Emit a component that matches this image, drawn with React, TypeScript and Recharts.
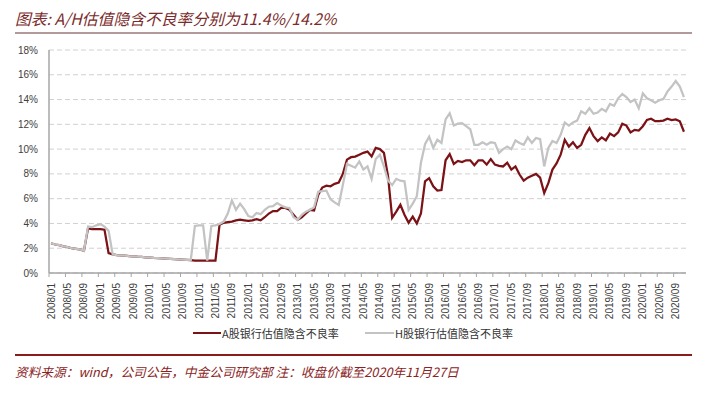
import { CartesianGrid, Legend, Line, LineChart, XAxis, YAxis } from "recharts"

// monthly categories 2008/01 .. 2020/11
const startYear = 2008
const monthCount = 155
const months: string[] = []
for (let i = 0; i < monthCount; i++) {
  const y = startYear + Math.floor(i / 12)
  const m = (i % 12) + 1
  months.push(`${y}/${m < 10 ? "0" + m : m}`)
}

// A股银行估值隐含不良率 (%)
const aRate = [
  2.4, 2.3, 2.25, 2.15, 2.1, 2.0, 1.95, 1.9, 1.8, 3.6, 3.55, 3.55,
  3.55, 3.5, 1.6, 1.5, 1.45, 1.42, 1.4, 1.37, 1.35, 1.32, 1.3, 1.27,
  1.25, 1.22, 1.2, 1.18, 1.16, 1.14, 1.12, 1.1, 1.08, 1.06, 1.03, 1.0,
  1.0, 1.0, 1.0, 1.0, 1.0, 3.9, 4.05, 4.1, 4.15, 4.25, 4.3, 4.25,
  4.2, 4.25, 4.35, 4.25, 4.5, 4.8, 5.0, 5.0, 5.25, 5.25, 5.1, 4.7,
  4.3, 4.5, 4.8, 5.1, 5.05, 6.3, 6.9, 7.05, 7.0, 7.2, 7.3, 8.0,
  9.15, 9.35, 9.4, 9.55, 9.7, 9.8, 9.4, 10.1, 10.0, 9.7, 7.8, 4.45,
  4.95, 5.5, 4.7, 4.05, 4.55, 4.0, 4.8, 7.4, 7.65, 7.0, 6.65, 6.7,
  9.1, 9.6, 8.8, 9.05, 8.95, 9.1, 9.1, 8.7, 9.1, 9.1, 8.75, 9.2,
  8.75, 8.65, 8.6, 8.9, 8.35, 8.6, 7.95, 7.45, 7.7, 7.85, 8.0, 7.7,
  6.45, 7.25, 8.35, 8.85, 9.55, 10.75, 10.2, 10.55, 10.1, 10.35, 11.15, 11.7,
  11.05, 10.65, 10.95, 10.7, 11.25, 11.05, 11.35, 12.05, 11.9, 11.35, 11.55, 11.5,
  11.85, 12.35, 12.45, 12.25, 12.25, 12.3, 12.45, 12.35, 12.4, 12.25, 11.4,
]

// H股银行估值隐含不良率 (%)
const hRate = [
  2.4, 2.3, 2.25, 2.15, 2.1, 2.0, 1.95, 1.9, 1.8, 3.75, 3.7, 3.85,
  3.95, 3.75, 3.4, 1.5, 1.45, 1.42, 1.4, 1.37, 1.35, 1.32, 1.3, 1.27,
  1.25, 1.22, 1.2, 1.18, 1.16, 1.14, 1.12, 1.1, 1.08, 1.06, 1.05, 3.8,
  3.85, 3.85, 1.0, 3.8, 3.85, 3.95, 4.15, 4.8, 5.85, 5.1, 5.6, 5.15,
  4.6, 4.5, 4.85, 4.75, 5.1, 5.35, 5.4, 5.65, 5.45, 5.3, 5.25, 4.5,
  4.3, 4.7, 4.95, 5.1, 5.3, 6.55, 6.6, 6.65, 5.95, 5.7, 5.5, 7.1,
  8.8, 8.65, 8.5, 9.0, 8.35, 8.6, 7.6, 9.2, 9.55, 8.6, 7.45, 7.1,
  7.6, 7.45, 7.4, 5.1, 5.6, 6.2, 8.9, 10.4, 11.0, 10.1, 10.75, 10.5,
  12.4, 12.9, 11.9, 12.05, 12.1, 11.85, 11.6, 10.35, 10.35, 10.55, 10.35, 10.55,
  10.5, 9.7, 10.0, 10.2, 10.0, 10.7, 10.5, 10.35, 10.95, 10.5, 10.9, 10.8,
  8.6, 10.1, 10.65, 10.5, 11.15, 12.15, 11.9, 12.15, 12.3, 13.05, 12.85, 13.3,
  12.85, 12.95, 13.25, 13.05, 13.65, 13.5, 14.1, 14.45, 14.2, 13.8, 14.0, 13.3,
  14.5, 14.1, 13.95, 13.75, 13.95, 14.05, 14.65, 15.05, 15.5, 15.05, 14.2,
]

const yTicks = [0, 2, 4, 6, 8, 10, 12, 14, 16, 18]

const seriesNames = ["A股银行估值隐含不良率", "H股银行估值隐含不良率"]
const colorA = "#7a1216"
const colorH = "#c3c3c3"

const data = months.map((m, i) => ({ month: m, a: aRate[i], h: hRate[i] }))

const plotLeft = 49
const plotRight = 686
const halfBand = (plotRight - plotLeft) / monthCount / 2

const XTick = (props: any) => {
  const { x, y, payload } = props
  const axisY = y - 10
  return (
    <g>
      <line x1={x - halfBand} x2={x - halfBand} y1={axisY} y2={axisY + 4} stroke="#a6a6a6" />
      <text
        transform={`translate(${x},${y}) rotate(-90)`}
        textAnchor="end"
        dominantBaseline="central"
        fontSize={10}
        fill="#404040"
        fontFamily="'Liberation Sans', Arial, sans-serif"
      >
        {payload.value}
      </text>
    </g>
  )
}

const renderLegend = () => (
  <div style={{ position: "relative", height: 16, fontFamily: "'Noto Sans CJK SC', sans-serif", fontSize: 11, color: "#333" }}>
    <div style={{ position: "absolute", left: 193, top: 7, width: 28, height: 2, background: colorA }} />
    <span style={{ position: "absolute", left: 222, top: 0, lineHeight: "16px" }}>{seriesNames[0]}</span>
    <div style={{ position: "absolute", left: 365, top: 7, width: 29, height: 2, background: colorH }} />
    <span style={{ position: "absolute", left: 395, top: 0, lineHeight: "16px" }}>{seriesNames[1]}</span>
  </div>
)

export default function App() {
  return (
    <div style={{ position: "absolute", left: 0, top: 0, width: 701, height: 394, background: "#fff", overflow: "hidden" }}>
      <div
        style={{
          position: "absolute",
          left: 15,
          top: 9,
          fontSize: 15.8,
          lineHeight: "20px",
          fontStyle: "italic",
          color: "#7b2b2b",
          fontFamily: "'Noto Sans CJK SC', sans-serif",
          whiteSpace: "nowrap",
        }}
      >
        图表: A/H估值隐含不良率分别为11.4%/14.2%
      </div>
      <div style={{ position: "absolute", left: 15, top: 32, width: 677, height: 2, background: "#b39a9a" }} />

      <div style={{ position: "absolute", left: 0, top: 0 }}>
        <LineChart width={701} height={394} data={data} margin={{ top: 50, right: 701 - plotRight, bottom: 55, left: 0 }}>
          <CartesianGrid vertical={false} stroke="#d0d0d0" strokeDasharray="5 3" />
          <XAxis
            dataKey="month"
            interval={3}
            tickLine={false}
            tickSize={4}
            tickMargin={6}
            height={50}
            padding={{ left: halfBand, right: halfBand }}
            axisLine={{ stroke: "#a6a6a6", strokeWidth: 1.5 }}
            tick={<XTick />}
          />
          <YAxis
            width={plotLeft}
            domain={[0, 18]}
            ticks={yTicks}
            interval={0}
            tickLine={false}
            tickSize={0}
            tickMargin={11}
            axisLine={{ stroke: "#a6a6a6", strokeWidth: 1.5 }}
            tickFormatter={(v) => `${v}%`}
            tick={{ fontSize: 10, fill: "#404040", fontFamily: "'Liberation Sans', Arial, sans-serif" }}
          />
          <Legend content={renderLegend} wrapperStyle={{ position: "absolute", left: 0, top: 325, width: 701 }} />
          <Line type="linear" dataKey="a" name={seriesNames[0]} stroke={colorA} strokeWidth={2.25} dot={false} isAnimationActive={false} />
          <Line type="linear" dataKey="h" name={seriesNames[1]} stroke={colorH} strokeWidth={2.25} dot={false} isAnimationActive={false} />
        </LineChart>
      </div>

      <div style={{ position: "absolute", left: 15, top: 354, width: 677, height: 2, background: "#8a1c1c" }} />
      <div
        style={{
          position: "absolute",
          left: 15,
          top: 363,
          fontSize: 12.7,
          lineHeight: "18px",
          fontStyle: "italic",
          color: "#8a2424",
          fontFamily: "'Noto Sans CJK SC', sans-serif",
          whiteSpace: "nowrap",
        }}
      >
        资料来源：wind，公司公告，中金公司研究部 注：收盘价截至2020年11月27日
      </div>
    </div>
  )
}
